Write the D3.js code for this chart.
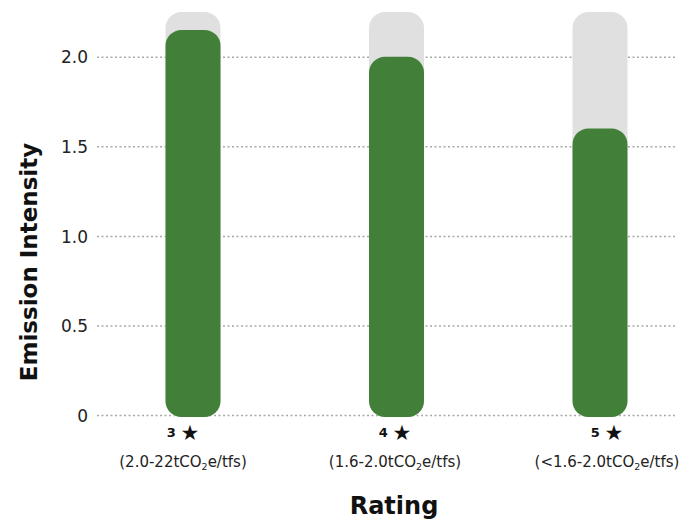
<!DOCTYPE html>
<html>
<head>
<meta charset="utf-8">
<script src="https://cdn.jsdelivr.net/npm/d3@7"></script>
<style>
  html, body { margin: 0; padding: 0; background: #fff; }
  svg { display: block; font-family: "DejaVu Sans", sans-serif; }
</style>
</head>
<body>
<svg id="chart" width="680" height="523"></svg>
<script>
// Star ratings and their emission intensity ranges
const ratings = ["3", "4", "5"];
const rangeLabels = [
  ["(2.0-22tCO", "2", "e/tfs)"],
  ["(1.6-2.0tCO", "2", "e/tfs)"],
  ["(<1.6-2.0tCO", "2", "e/tfs)"]
];
const intensity = [2.15, 2.0, 1.6];
const trackMax = 2.25;
const yTicks = [0, 0.5, 1.0, 1.5, 2.0];
const yTickLabels = ["0", "0.5", "1.0", "1.5", "2.0"];

const svg = d3.select("#chart");

const y = d3.scaleLinear().domain([0, trackMax]).range([415, 12]);
const x = d3.scalePoint().domain(ratings).range([193, 600]);
// category labels sit on their own, slightly wider spacing
const xLabel = d3.scalePoint().domain(ratings).range([183, 607]);
const barW = 55;
const radius = 16;

// Dotted gridlines
const gridAxis = d3.axisLeft(y).tickValues(yTicks).tickSize(-578).tickFormat("");
const grid = svg.append("g").attr("transform", "translate(97,0)").call(gridAxis);
grid.select(".domain").remove();
grid.selectAll(".tick line")
  .attr("stroke", "#a9a9a9")
  .attr("stroke-width", 1.5)
  .attr("stroke-dasharray", "2,2.5");

// Y tick labels
const yAxis = d3.axisLeft(y).tickValues(yTicks).tickSize(0)
  .tickFormat((d, i) => yTickLabels[i]);
const ya = svg.append("g").attr("transform", "translate(91,0)").call(yAxis);
ya.select(".domain").remove();
ya.selectAll("text")
  .attr("font-family", "DejaVu Sans, sans-serif")
  .attr("font-size", 17)
  .attr("fill", "#222")
  .attr("dy", "0.36em");

// Background tracks
svg.append("g").selectAll("rect")
  .data(ratings)
  .join("rect")
  .attr("x", d => x(d) - barW / 2)
  .attr("y", y(trackMax))
  .attr("width", barW)
  .attr("height", y(0) - y(trackMax) + 2)
  .attr("rx", radius)
  .attr("fill", "#e0e0e0");

// Intensity bars
svg.append("g").selectAll("rect")
  .data(ratings)
  .join("rect")
  .attr("x", d => x(d) - barW / 2)
  .attr("y", (d, i) => y(intensity[i]))
  .attr("width", barW)
  .attr("height", (d, i) => y(0) - y(intensity[i]) + 2)
  .attr("rx", radius)
  .attr("fill", "#42803a");

// Category labels: rating + star, then the intensity range
const cat = svg.append("g").selectAll("g")
  .data(ratings)
  .join("g")
  .attr("transform", d => `translate(${xLabel(d)},0)`);

const starLine = cat.append("text")
  .attr("y", 440)
  .attr("text-anchor", "middle")
  .attr("fill", "#111");
starLine.append("tspan")
  .attr("font-size", 13)
  .attr("font-weight", 700)
  .attr("dy", "-3")
  .text(d => d + " ");
starLine.append("tspan")
  .attr("font-size", 21)
  .attr("dy", "3")
  .text("★");

const rangeText = cat.append("text")
  .attr("y", 467)
  .attr("text-anchor", "middle")
  .attr("font-size", 15)
  .attr("fill", "#222");
rangeText.append("tspan").text((d, i) => rangeLabels[i][0]);
rangeText.append("tspan").attr("font-size", 9.5).attr("dy", 3).text((d, i) => rangeLabels[i][1]);
rangeText.append("tspan").attr("dy", -3).text((d, i) => rangeLabels[i][2]);

// Axis titles
svg.append("text")
  .attr("transform", "translate(37,262) rotate(-90)")
  .attr("text-anchor", "middle")
  .attr("font-size", 23)
  .attr("font-weight", 700)
  .attr("fill", "#111")
  .text("Emission Intensity");

svg.append("text")
  .attr("x", 394)
  .attr("y", 514)
  .attr("text-anchor", "middle")
  .attr("font-size", 24)
  .attr("font-weight", 700)
  .attr("fill", "#111")
  .text("Rating");
</script>
</body>
</html>
